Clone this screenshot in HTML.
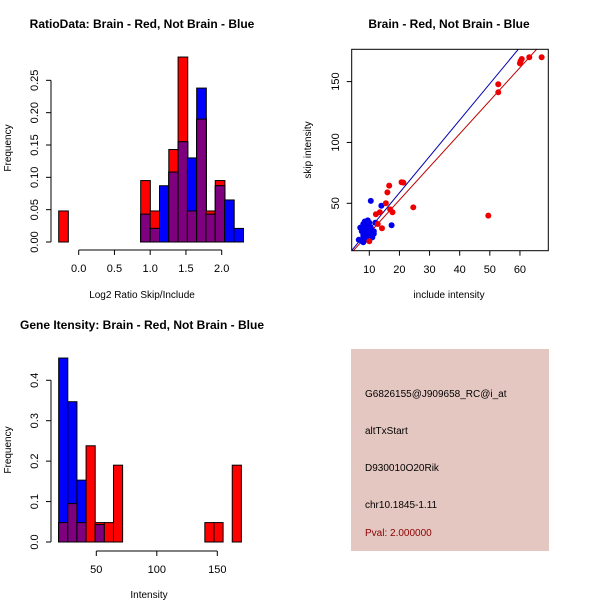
<!DOCTYPE html>
<html><head><meta charset="utf-8"><style>
body{margin:0;background:#fff;}
svg{display:block;font-family:"Liberation Sans",sans-serif;}
</style></head><body>
<svg id="s" width="600" height="600" viewBox="0 0 600 600">
<text x="142" y="28" font-size="12" font-weight="bold" text-anchor="middle">RatioData: Brain - Red, Not Brain - Blue</text>
<text x="449" y="28" font-size="12" font-weight="bold" text-anchor="middle">Brain - Red, Not Brain - Blue</text>
<text x="142" y="329" font-size="12" font-weight="bold" text-anchor="middle">Gene Itensity: Brain - Red, Not Brain - Blue</text>
<text x="142" y="298" font-size="10" text-anchor="middle">Log2 Ratio Skip/Include</text>
<text x="0" y="0" font-size="10" text-anchor="middle" transform="translate(11,148) rotate(-90)">Frequency</text>
<text x="449" y="298" font-size="10" text-anchor="middle">include intensity</text>
<text x="0" y="0" font-size="10" text-anchor="middle" transform="translate(311,150) rotate(-90)">skip intensity</text>
<text x="149" y="598" font-size="10" text-anchor="middle">Intensity</text>
<text x="0" y="0" font-size="10" text-anchor="middle" transform="translate(11,450) rotate(-90)">Frequency</text>
<rect x="351" y="349" width="198" height="202" fill="#e5c7c1"/>
<text x="365" y="397" font-size="10">G6826155@J909658_RC@i_at</text>
<text x="365" y="434" font-size="10">altTxStart</text>
<text x="365" y="471" font-size="10">D930010O20Rik</text>
<text x="365" y="508" font-size="10">chr10.1845-1.11</text>
<text x="365" y="536" font-size="10" fill="#8b0000">Pval: 2.000000</text>
</svg>
<script>
// ---- Histogram 1 data ----
const ratioBins=[-0.28,0.867,1.0,1.13,1.26,1.39,1.52,1.65,1.78,1.91,2.04,2.17];
const ratioRed=[0.048,0.095,0.048,0,0.143,0.286,0.048,0.19,0.048,0.095,0,0];
const ratioBlue=[0,0.043,0.021,0.087,0.108,0.155,0.13,0.238,0.043,0.087,0.065,0.021];
const ratioXTicks=[0,0.5,1,1.5,2];
const ratioYTicks=[0,0.05,0.1,0.15,0.2,0.25];
const ratioWidth=0.135;
// ---- Histogram 2 data ----
const intStart=18.9, intWidth=7.55;
const intRed=[0.048,0.095,0.048,0.238,0.048,0.048,0.19,0,0,0,0,0,0,0,0,0,0.048,0.048,0,0.19];
const intBlue=[0.455,0.347,0.153,0,0.043,0,0,0,0,0,0,0,0,0,0,0,0,0,0,0];
const intXTicks=[50,100,150];
const intYTicks=[0,0.1,0.2,0.3,0.4];
// ---- Scatter data ----
const redX=[67.2,63.1,60.6,60.2,60,52.8,52.8,49.5,24.6,21.3,20.7,16.6,16,15.5,16.9,17.7,13.5,12.2,12.8,14.2,10];
const redY=[170,170,168.6,166.7,165,147.8,141.2,39.9,46.7,67,67.3,64.5,59,50,45,42.6,42.6,41,33,29.5,18.8];
const blueX=[10.5,14,17.4,7,7.5,8,8.5,9,9.5,10,10.5,11,11.5,8,8.5,9,9.5,10,7.5,8,9,10,11,11.5,6.5,8,9,10,12,8.5];
const blueY=[52,48,32,30,27,33,35,34,36,34,30,27,25,24,28,22,26,31,19,22,33,29,22,27,20,18,20,24,34,30];
const scXTicks=[10,20,30,40,50,60];
const scYTicks=[50,100,150];
const blueFit=[2.99,-1.2], redFit=[2.72,-1.7];

const svg=document.getElementById('s');
const NS='http://www.w3.org/2000/svg';
function mk(t,a){const e=document.createElementNS(NS,t);for(const k in a)e.setAttribute(k,a[k]);svg.appendChild(e);return e;}

// hist 1
const hx=v=>78.7+v*71.5, hy=v=>242-v*646.7;
ratioBins.forEach((b,i)=>{
  const x0=hx(b),w=ratioWidth*71.5;
  if(ratioRed[i]>0){const r=mk('rect',{x:x0,y:hy(ratioRed[i]),width:w,height:hy(0)-hy(ratioRed[i]),fill:'#ff0000',stroke:'#000','stroke-width':1});
  
  }
  if(ratioBlue[i]>0){const r=mk('rect',{x:x0,y:hy(ratioBlue[i]),width:w,height:hy(0)-hy(ratioBlue[i]),fill:'#0000ff',stroke:'#000','stroke-width':1});
  
  }
  const m=Math.min(ratioRed[i],ratioBlue[i]);
  if(m>0){const r=mk('rect',{x:x0,y:hy(m),width:w,height:hy(0)-hy(m),fill:'#7f007f',stroke:'#000','stroke-width':1});
  
  }
});
let l=mk('line',{x1:hx(0),x2:hx(2),y1:250,y2:250,stroke:'#000'});


ratioXTicks.forEach(t=>{mk('line',{x1:hx(t),x2:hx(t),y1:250,y2:255,stroke:'#000'});
  const tx=mk('text',{x:hx(t),y:272,'font-size':11,'text-anchor':'middle'});tx.textContent=t.toFixed(1);
  
  });
l=mk('line',{x1:51,x2:51,y1:hy(0),y2:hy(0.25),stroke:'#000'});


ratioYTicks.forEach(t=>{mk('line',{x1:46,x2:51,y1:hy(t),y2:hy(t),stroke:'#000'});
  const tx=mk('text',{x:0,y:0,'font-size':11,'text-anchor':'middle',transform:`translate(38,${hy(t)}) rotate(-90)`});tx.textContent=t.toFixed(2);
  
  });

// hist 2
const ix=v=>96.3+(v-50)*1.21, iy=v=>542-v*404.3;
intRed.forEach((rv,i)=>{
  const x0=ix(intStart+i*intWidth),w=intWidth*1.21,bv=intBlue[i];
  if(rv>0){const r=mk('rect',{x:x0,y:iy(rv),width:w,height:iy(0)-iy(rv),fill:'#ff0000',stroke:'#000','stroke-width':1});
  
  }
  if(bv>0){const r=mk('rect',{x:x0,y:iy(bv),width:w,height:iy(0)-iy(bv),fill:'#0000ff',stroke:'#000','stroke-width':1});
  
  }
  const m=Math.min(rv,bv);
  if(m>0){const r=mk('rect',{x:x0,y:iy(m),width:w,height:iy(0)-iy(m),fill:'#7f007f',stroke:'#000','stroke-width':1});
  
  }
});
l=mk('line',{x1:ix(50),x2:ix(150),y1:551,y2:551,stroke:'#000'});


intXTicks.forEach(t=>{mk('line',{x1:ix(t),x2:ix(t),y1:551,y2:556,stroke:'#000'});
  const tx=mk('text',{x:ix(t),y:573,'font-size':11,'text-anchor':'middle'});tx.textContent=t;
  
  });
l=mk('line',{x1:51,x2:51,y1:iy(0),y2:iy(0.4),stroke:'#000'});


intYTicks.forEach(t=>{mk('line',{x1:46,x2:51,y1:iy(t),y2:iy(t),stroke:'#000'});
  const tx=mk('text',{x:0,y:0,'font-size':11,'text-anchor':'middle',transform:`translate(38,${iy(t)}) rotate(-90)`});tx.textContent=t.toFixed(1);
  
  });

// scatter
const sx=v=>369.3+(v-10)*3.013, sy=v=>203.3-(v-50)*1.217;
const X0=351.7,X1=548.3,Y0=49.3,Y1=250.7;
const cp=mk('clipPath',{id:'cp'});const cr=document.createElementNS(NS,'rect');
cr.setAttribute('x',X0);cr.setAttribute('y',Y0);cr.setAttribute('width',X1-X0);cr.setAttribute('height',Y1-Y0);cp.appendChild(cr);
[[blueFit,'#0000b0','blue-fit-line'],[redFit,'#c00000','red-fit-line']].forEach(([f,c,n])=>{
  const a=0,b=80;const e=mk('line',{x1:sx(a),y1:sy(f[0]*a+f[1]),x2:sx(b),y2:sy(f[0]*b+f[1]),stroke:c,'stroke-width':1,'clip-path':'url(#cp)'});
  
  });
blueX.forEach((x,i)=>{const c=mk('circle',{cx:sx(x),cy:sy(blueY[i]),r:3,fill:'#0000ee'});
  
  });
redX.forEach((x,i)=>{const c=mk('circle',{cx:sx(x),cy:sy(redY[i]),r:3,fill:'#ee0000'});
  
  });
l=mk('rect',{x:X0,y:Y0,width:X1-X0,height:Y1-Y0,fill:'none',stroke:'#000'});


scXTicks.forEach(t=>{mk('line',{x1:sx(t),x2:sx(t),y1:Y1,y2:Y1+5,stroke:'#000'});
  const tx=mk('text',{x:sx(t),y:273,'font-size':11,'text-anchor':'middle'});tx.textContent=t;
  
  });
scYTicks.forEach(t=>{mk('line',{x1:X0-5,x2:X0,y1:sy(t),y2:sy(t),stroke:'#000'});
  const tx=mk('text',{x:0,y:0,'font-size':11,'text-anchor':'middle',transform:`translate(339,${sy(t)}) rotate(-90)`});tx.textContent=t;
  
  });
</script>
</body></html>
